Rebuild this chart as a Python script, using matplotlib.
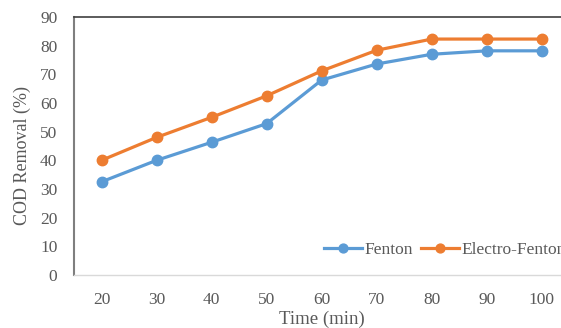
import matplotlib
matplotlib.use("Agg")
import matplotlib.pyplot as plt

# COD removal over time
times = [20, 30, 40, 50, 60, 70, 80, 90, 100]
fenton = [32.5, 40, 46.3, 52.8, 68, 73.6, 77, 78.2, 78.2]
electro_fenton = [40, 48, 55, 62.5, 71.2, 78.4, 82.3, 82.3, 82.3]

plt.rcParams['font.family'] = ['Liberation Serif', 'DejaVu Serif']

fig = plt.figure(figsize=(5.61, 3.28), dpi=100)
ax = fig.add_axes([0.1319, 0.1616, 0.883, 0.7866])

pos = list(range(len(times)))
ax.plot(pos, fenton, color='#5B9BD5', lw=2.3, marker='o', ms=7.5, label='Fenton')
ax.plot(pos, electro_fenton, color='#ED7D31', lw=2.3, marker='o', ms=7.5, label='Electro-Fenton')

ax.set_xlim(-0.5, len(times) - 0.5)
ax.set_ylim(0, 90)
ax.set_yticks(range(0, 91, 10))
ax.set_xticks(pos)
ax.set_xticklabels([str(t) for t in times])
ax.tick_params(length=0, labelsize=12.5, labelcolor='#595959')
ax.tick_params(axis='x', pad=12)
ax.tick_params(axis='y', pad=12)

ax.spines['right'].set_visible(False)
ax.spines['top'].set_color('#404040')
ax.spines['top'].set_linewidth(1.2)
ax.spines['left'].set_color('#7F7F7F')
ax.spines['left'].set_linewidth(1.5)
ax.spines['bottom'].set_color('#D9D9D9')
ax.spines['bottom'].set_linewidth(1.0)

ax.set_ylabel('COD Removal (%)', fontsize=13, color='#595959')
ax.yaxis.set_label_coords((31 - 74) / 495.5, 0.465)
ax.set_xlabel('Time (min)', fontsize=13.5, color='#595959')
ax.xaxis.set_label_coords((322 - 74) / 495.5, (275 - 311) / 258)

fig.legend(*ax.get_legend_handles_labels(), loc='center left',
           bbox_to_anchor=(324 / 561, 1 - 250 / 328), ncol=2, frameon=False,
           borderpad=0, borderaxespad=0,
           fontsize=12.5, labelcolor='#595959', handlelength=2.2, handletextpad=0.15,
           columnspacing=0.45, markerscale=0.85)

fig.savefig('out.png', dpi=100)
